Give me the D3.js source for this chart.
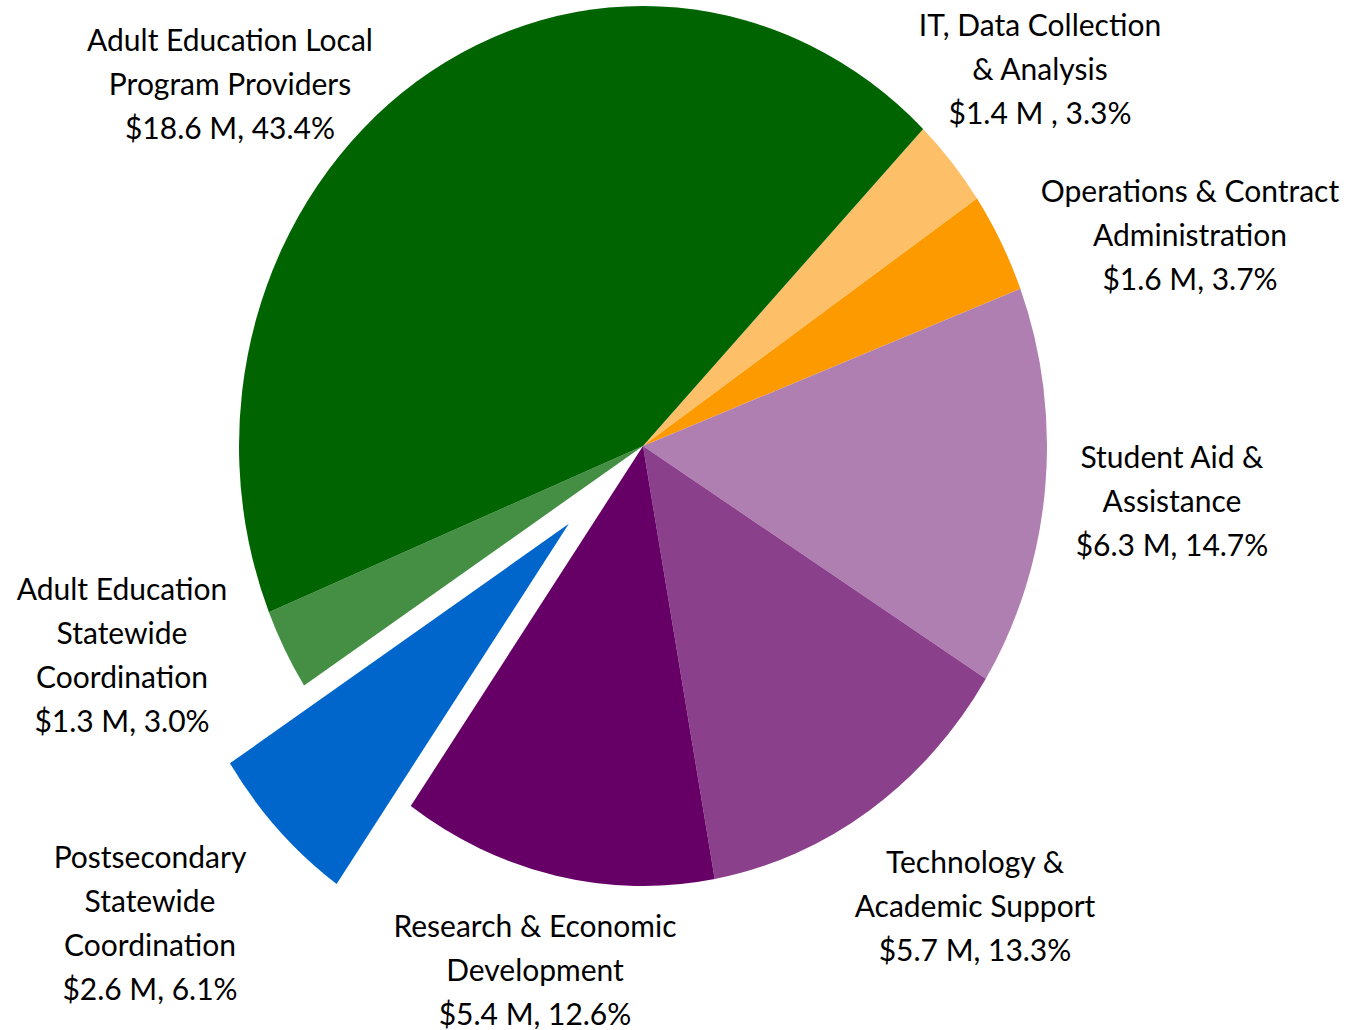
<!DOCTYPE html>
<html>
<head>
<meta charset="utf-8">
<script src="https://cdn.jsdelivr.net/npm/d3@7"></script>
<style>
  body { margin: 0; background: #fff; }
  text { font-family: Lato, "Open Sans", sans-serif; fill: #000; }
</style>
</head>
<body>
<svg id="chart"></svg>
<script>
// 数据（顺时针，从 IT 开始）
const categories = [
  "IT, Data Collection & Analysis",
  "Operations & Contract Administration",
  "Student Aid & Assistance",
  "Technology & Academic Support",
  "Research & Economic Development",
  "Postsecondary Statewide Coordination",
  "Adult Education Statewide Coordination",
  "Adult Education Local Program Providers"
];
const amounts = [1.4, 1.6, 6.3, 5.7, 5.4, 2.6, 1.3, 18.6]; // $M
const shares = [3.3, 3.7, 14.7, 13.3, 12.6, 6.1, 3.0, 43.4]; // %
const nameLines = [
  ["IT, Data Collection", "& Analysis"],
  ["Operations & Contract", "Administration"],
  ["Student Aid &", "Assistance"],
  ["Technology &", "Academic Support"],
  ["Research & Economic", "Development"],
  ["Postsecondary", "Statewide", "Coordination"],
  ["Adult Education", "Statewide", "Coordination"],
  ["Adult Education Local", "Program Providers"]
];
const valueSeps = [" , ", ", ", ", ", ", ", ", ", ", ", ", ", ", "];

// 样式
const colors = ["#FDC068", "#FD9A00", "#B07FB1", "#8B408B", "#660066", "#0066CC", "#458F45", "#006400"];
const explodeIndex = 5;

// 布局
const W = 1353, H = 1030;
const cx = 643, cy = 446;
const R = 404;
const yStretch = 440 / 404;
const startDeg = 43.9;
const explodeFrac = 0.255;
const fontSize = 30;
const lineGap = 44;
// 标签中心（第一行）位置
const labelPos = [
  [1040, 25], [1190, 191], [1172, 457], [975, 862],
  [535, 926], [150, 857], [122, 589], [230, 40]
];

const svg = d3.select("#chart").attr("width", W).attr("height", H);

const pie = d3.pie()
  .sort(null)
  .value(d => d)
  .startAngle(startDeg * Math.PI / 180)
  .endAngle(startDeg * Math.PI / 180 + 2 * Math.PI);

const arc = d3.arc().innerRadius(0).outerRadius(R);

const arcs = pie(shares);

const pieG = svg.append("g")
  .attr("transform", `translate(${cx},${cy}) scale(1,${yStretch})`);

pieG.selectAll("path")
  .data(arcs)
  .enter().append("path")
  .attr("d", arc)
  .attr("fill", (d, i) => colors[i])
  .attr("transform", (d, i) => {
    if (i !== explodeIndex) return null;
    const mid = (d.startAngle + d.endAngle) / 2;
    const off = explodeFrac * R;
    return `translate(${Math.sin(mid) * off},${-Math.cos(mid) * off})`;
  });

// 标签
const fmt = d3.format(".1f");
const labelG = svg.append("g");
arcs.forEach((d, i) => {
  const lines = nameLines[i].concat(["$" + fmt(amounts[i]) + " M" + valueSeps[i] + fmt(shares[i]) + "%"]);
  const t = labelG.append("text")
    .attr("text-anchor", "middle")
    .attr("font-size", fontSize)
    .attr("x", labelPos[i][0])
    .attr("y", labelPos[i][1]);
  lines.forEach((ln, j) => {
    t.append("tspan")
      .attr("x", labelPos[i][0])
      .attr("y", labelPos[i][1] + j * lineGap)
      .attr("dy", "0.35em")
      .text(ln);
  });
});
</script>
</body>
</html>
